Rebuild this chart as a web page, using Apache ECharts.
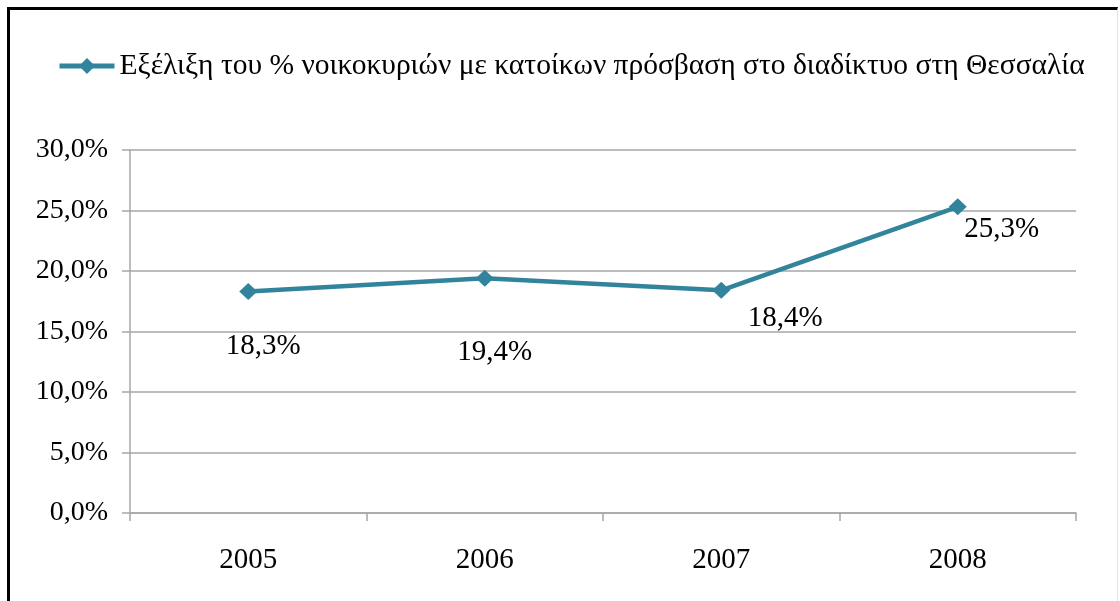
<!DOCTYPE html>
<html>
<head>
  <meta charset="utf-8" />
  <title>Θεσσαλία - πρόσβαση στο διαδίκτυο</title>
  <script src="https://cdn.jsdelivr.net/npm/echarts@6/dist/echarts.min.js"></script>
  <style>
    html, body { margin: 0; padding: 0; background: #fff; }
    #chart-main { position: absolute; left: 0; top: 0; width: 1120px; height: 601px; }
    #frame { position: absolute; left: 7px; top: 7px; width: 1107px; height: 600px;
             border-top: 3px solid #000; border-left: 3px solid #000; border-right: 1px solid #e4e4e4;
             pointer-events: none; }
  </style>
</head>
<body>
<div id="chart-main"></div>
<div id="frame"></div>

<script type="text/javascript">
var years      = ['2005', '2006', '2007', '2008'];
var households = [18.3, 19.4, 18.4, 25.3];
var seriesName = 'Εξέλιξη του % νοικοκυριών με κατοίκων πρόσβαση στο διαδίκτυο στη Θεσσαλία';
var yTicks     = [0, 5, 10, 15, 20, 25, 30];

// label placement as in the original (hand moved)
var labelShift = [[15, 55], [10, 74], [64, 28], [44, 23]];

function fmt(v, d) {
  return v.toFixed(d).replace('.', ',') + '%';
}

var font   = "Liberation Serif";
var teal   = '#31849b';
var gray   = '#a6a6a6';

var myChart = echarts.init(document.getElementById('chart-main'));

var points = households.map(function (v, i) {
  return { value: v, label: { offset: labelShift[i] } };
});

var legendText = { fontFamily: font, fontSize: 29.5, color: '#000' };

var option = {
  backgroundColor: '#fff',
  animation: false,
  textStyle: { fontFamily: font },
  legend: {
    top: 46, left: 52,
    itemWidth: 55, itemHeight: 20, itemGap: 0,
    lineStyle: { width: 5 },
    textStyle: legendText,
    data: [{ name: seriesName, textStyle: legendText }]
  },
  grid: { left: 130, right: 44, top: 150, bottom: 88 },
  xAxis: {
    type: 'category',
    data: years,
    boundaryGap: true,
    axisLine: { show: true, lineStyle: { color: gray, width: 1.5 } },
    axisTick: { show: true, length: 8, lineStyle: { color: gray, width: 1.5 } },
    axisLabel: { fontFamily: font, fontSize: 29, color: '#000', margin: 33 }
  },
  yAxis: {
    type: 'value',
    min: yTicks[0], max: yTicks[yTicks.length - 1], interval: 5,
    axisLine: { show: true, lineStyle: { color: gray, width: 1.5 } },
    axisTick: { show: true, length: 8, lineStyle: { color: gray, width: 1.5 } },
    splitLine: { show: true, lineStyle: { color: gray, width: 1.5 } },
    axisLabel: {
      fontFamily: font, fontSize: 28, color: '#000', margin: 22,
      formatter: function (v) { return fmt(v, 1); }
    }
  },
  series: [{
    name: seriesName,
    type: 'line',
    data: points,
    symbol: 'diamond',
    symbolSize: [18, 17],
    itemStyle: { color: teal },
    lineStyle: { color: teal, width: 4.5 },
    label: {
      show: true, position: 'inside',
      fontFamily: font, fontSize: 29, color: '#000',
      formatter: function (p) { return fmt(p.value, 1); }
    }
  }]
};

myChart.setOption(option);
</script>
</body>
</html>
